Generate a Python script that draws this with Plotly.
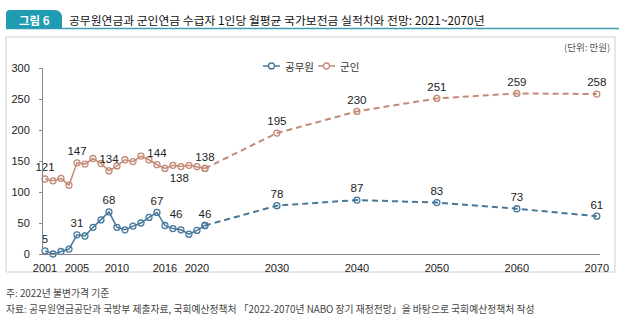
import plotly.graph_objects as go

# ---- data ----
hist_years = list(range(2001, 2022))
civil_hist = [5, 0, 4, 8, 31, 29, 43, 55, 68, 43, 39, 45, 50, 59, 67, 46, 41, 39, 32, 38, 46]
military_hist = [121, 118, 122, 111, 147, 145, 154, 146, 134, 142, 152, 149, 158, 152, 144, 138, 143, 141, 143, 141, 138]
proj_years = [2021, 2030, 2040, 2050, 2060, 2070]
civil_proj = [46, 78, 87, 83, 73, 61]
military_proj = [138, 195, 230, 251, 259, 258]
x_tick_vals = [2001, 2005, 2010, 2016, 2020, 2030, 2040, 2050, 2060, 2070]
civil_label_years = [2001, 2005, 2009, 2015, 2016, 2021]
military_label_years = [2001, 2005, 2009, 2015, 2016, 2021]
military_label_below = [2016]
civil_label_right = [2016]
series_names = ["공무원", "군인"]

BLUE = "#46789a"
RED = "#c48a76"
NUM_FONT = "Liberation Sans, Arial, sans-serif"
KR_FONT = "Noto Sans CJK KR, sans-serif"

W, H = 630, 322
ML, MR, MT, MB = 43, 30, 68, 68
PX0, PX1, PY0, PY1 = ML, W - MR, H - MB, MT


def px(x):
    return (x - PX0) / (PX1 - PX0)


def py(y):
    return (PY0 - y) / (PY0 - PY1)


def labels(years, vals, shown):
    return [str(v) if y in shown else "" for y, v in zip(years, vals)]


fig = go.Figure()
MK = dict(symbol="circle-open", size=6, line=dict(width=1.3))

fig.add_trace(go.Scatter(
    x=hist_years, y=civil_hist, mode="lines+markers", name=series_names[0], showlegend=False,
    line=dict(color=BLUE, width=1.5), marker=dict(color=BLUE, **MK), cliponaxis=False,
))
fig.add_trace(go.Scatter(
    x=hist_years, y=military_hist, mode="lines+markers", name=series_names[1], showlegend=False,
    line=dict(color=RED, width=1.5), marker=dict(color=RED, **MK), cliponaxis=False,
))
fig.add_trace(go.Scatter(
    x=proj_years, y=civil_proj, mode="lines+markers", showlegend=False,
    line=dict(color=BLUE, width=2, dash="6px,4px"), marker=dict(color=BLUE, **MK), cliponaxis=False,
))
fig.add_trace(go.Scatter(
    x=proj_years, y=military_proj, mode="lines+markers", showlegend=False,
    line=dict(color=RED, width=2, dash="6px,4px"), marker=dict(color=RED, **MK), cliponaxis=False,
))

TXT = dict(family=NUM_FONT, size=11.5, color="#222")
GHOST = dict(size=6, opacity=0)
civ_pos = ["top right" if y in civil_label_right else "top center" for y in hist_years]
mil_pos = ["bottom right" if y in military_label_below else "top center" for y in hist_years]
for xs, ys, txt, pos in [
    (hist_years, civil_hist, labels(hist_years, civil_hist, civil_label_years), civ_pos),
    (hist_years, military_hist, labels(hist_years, military_hist, military_label_years), mil_pos),
    (proj_years[1:], civil_proj[1:], [str(v) for v in civil_proj[1:]], "top center"),
    (proj_years[1:], military_proj[1:], [str(v) for v in military_proj[1:]], "top center"),
]:
    fig.add_trace(go.Scatter(
        x=xs, y=ys, mode="markers+text", showlegend=False, marker=GHOST,
        text=txt, textposition=pos, textfont=TXT, hoverinfo="skip", cliponaxis=False,
    ))

shapes = [
    dict(type="rect", xref="paper", yref="paper", x0=px(6), x1=px(615), y0=py(272), y1=py(37),
         line=dict(color="#cfcfcf", width=1), fillcolor="rgba(0,0,0,0)", layer="below"),
    dict(type="line", xref="paper", yref="paper", x0=px(6), x1=px(619), y0=py(28.5), y1=py(28.5),
         line=dict(color="#3a9fb3", width=1.5)),
    dict(type="path", xref="paper", yref="paper",
         path=(f"M {px(6)},{py(28.5)} L {px(6)},{py(14)} Q {px(6)},{py(10)} {px(10)},{py(10)} "
               f"L {px(54)},{py(10)} Q {px(62)},{py(10)} {px(62)},{py(18)} L {px(62)},{py(28.5)} Z"),
         fillcolor="#1f9cb2", line=dict(width=0)),
]

annotations = [
    dict(text="<b>그림 6</b>", xref="paper", yref="paper", x=px(34), y=py(19.5), showarrow=False,
         xanchor="center", yanchor="middle", font=dict(family=KR_FONT, size=11.5, color="white")),
    dict(text="공무원연금과 군인연금 수급자 1인당 월평균 국가보전금 실적치와 전망: 2021~2070년",
         xref="paper", yref="paper", x=px(67), y=py(19), showarrow=False,
         xanchor="left", yanchor="middle", font=dict(family=KR_FONT, size=11.8, color="#111")),
    dict(text="(단위: 만원)", xref="paper", yref="paper", x=px(612), y=py(47), showarrow=False,
         xanchor="right", yanchor="middle", font=dict(family=KR_FONT, size=9.5, color="#555")),
    dict(text="주: 2022년 불변가격 기준", xref="paper", yref="paper", x=px(4), y=py(293), showarrow=False,
         xanchor="left", yanchor="middle", font=dict(family=KR_FONT, size=9.8, color="#444")),
    dict(text="자료: 공무원연금공단과 국방부 제출자료, 국회예산정책처 「2022-2070년 NABO 장기 재정전망」을 바탕으로 국회예산정책처 작성",
         xref="paper", yref="paper", x=px(4), y=py(309), showarrow=False,
         xanchor="left", yanchor="middle", font=dict(family=KR_FONT, size=9.8, color="#444")),
]

# custom compact legend (line + open circle + name)
LEG_Y = 66
for (x0, name, col) in [(263, series_names[0], BLUE), (318, series_names[1], RED)]:
    shapes.append(dict(type="line", xref="paper", yref="paper", x0=px(x0), x1=px(x0 + 17),
                       y0=py(LEG_Y), y1=py(LEG_Y), line=dict(color=col, width=1.5)))
    cx = x0 + 8.5
    shapes.append(dict(type="circle", xref="paper", yref="paper", x0=px(cx - 3), x1=px(cx + 3),
                       y0=py(LEG_Y + 3), y1=py(LEG_Y - 3), line=dict(color=col, width=1.3),
                       fillcolor="white"))
    annotations.append(dict(text=name, xref="paper", yref="paper", x=px(x0 + 20), y=py(LEG_Y),
                            showarrow=False, xanchor="left", yanchor="middle",
                            font=dict(family=KR_FONT, size=10.5, color="#333")))

fig.update_layout(
    width=W, height=H,
    margin=dict(l=ML, r=MR, t=MT, b=MB),
    paper_bgcolor="white", plot_bgcolor="white",
    shapes=shapes, annotations=annotations,
    showlegend=False,
    xaxis=dict(range=[2000.75, 2070.4], tickvals=x_tick_vals, ticktext=[str(v) for v in x_tick_vals],
               showgrid=False, zeroline=False, showline=True, linecolor="#888", linewidth=1,
               ticks="", ticklabelstandoff=4, tickfont=dict(family=NUM_FONT, size=11, color="#222")),
    yaxis=dict(range=[0, 300], tickvals=[0, 50, 100, 150, 200, 250, 300],
               showgrid=False, zeroline=False, showline=True, linecolor="#888", linewidth=1,
               ticks="outside", ticklen=3, tickcolor="#888", ticklabelstandoff=7,
               tickfont=dict(family=NUM_FONT, size=11, color="#222")),
)

fig.write_html("out.html")
